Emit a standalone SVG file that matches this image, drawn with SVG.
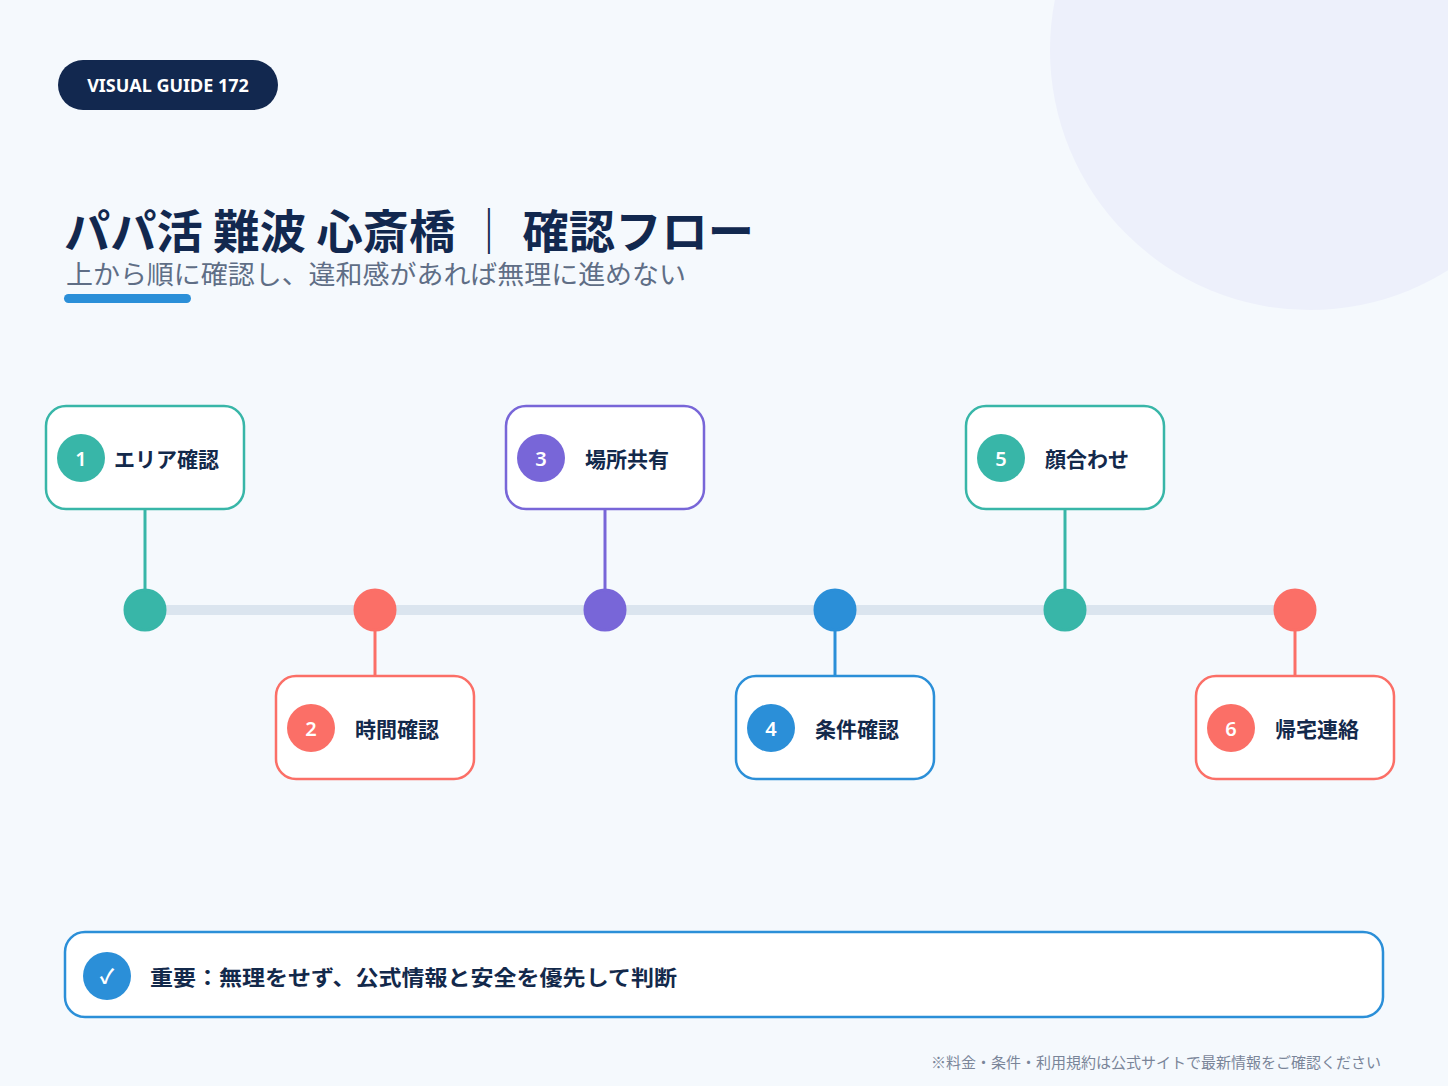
<svg xmlns="http://www.w3.org/2000/svg" width="1448" height="1086" viewBox="0 0 1448 1086">
<style>
.jp{font-family:"Noto Sans CJK JP","Noto Sans",sans-serif}
.box{fill:#fff;stroke-width:2.5}
.lbl{font-family:"Noto Sans CJK JP",sans-serif;font-size:21px;font-weight:700;fill:#13294b}
.num{font-family:"Noto Sans","Noto Sans CJK JP",sans-serif;font-size:20px;font-weight:600;fill:#fff;text-anchor:middle}
.t{stroke:#38b6a8;fill:#38b6a8}
.r{stroke:#fb6f67;fill:#fb6f67}
.p{stroke:#7866d8;fill:#7866d8}
.b{stroke:#2b8fd8;fill:#2b8fd8}
</style>
<rect width="1448" height="1086" fill="#f5f9fd"/>
<circle cx="1310" cy="50" r="260" fill="#edf0fb"/>
<rect x="58" y="60" width="220" height="50" rx="25" fill="#12284f"/>
<text x="168" y="92" text-anchor="middle" font-family="'Noto Sans',sans-serif" font-size="18" font-weight="700" fill="#fff">VISUAL GUIDE 172</text>
<text x="64" y="248" class="jp" font-size="46" font-weight="700" fill="#12284f" textLength="690" lengthAdjust="spacingAndGlyphs">パパ活 難波 心斎橋 │ 確認フロー</text>
<text x="66" y="284" class="jp" font-size="26" fill="#5f6e86" textLength="620" lengthAdjust="spacingAndGlyphs">上から順に確認し、違和感があれば無理に進めない</text>
<rect x="64" y="294" width="127" height="9" rx="4.5" fill="#2b8fd8"/>
<g id="connectors" stroke-width="3">
<line x1="145" y1="610" x2="1295" y2="610" stroke="#dbe5ef" stroke-width="10"/>
<line x1="145" y1="509" x2="145" y2="610" class="t"/>
<line x1="375" y1="610" x2="375" y2="677" class="r"/>
<line x1="605" y1="509" x2="605" y2="610" class="p"/>
<line x1="835" y1="610" x2="835" y2="677" class="b"/>
<line x1="1065" y1="509" x2="1065" y2="610" class="t"/>
<line x1="1295" y1="610" x2="1295" y2="677" class="r"/>
<circle cx="145" cy="610" r="20" class="t" stroke="none"/>
<circle cx="375" cy="610" r="20" class="r" stroke="none"/>
<circle cx="605" cy="610" r="20" class="p" stroke="none"/>
<circle cx="835" cy="610" r="20" class="b" stroke="none"/>
<circle cx="1065" cy="610" r="20" class="t" stroke="none"/>
<circle cx="1295" cy="610" r="20" class="r" stroke="none"/>
</g>
<g id="n1"><rect x="46" y="406" width="198" height="103" rx="20" class="box" stroke="#38b6a8"/><circle cx="81" cy="458" r="24" fill="#38b6a8"/><text x="81" y="466" class="num">1</text><text x="114" y="467" class="lbl">エリア確認</text></g>
<g id="n2"><rect x="276" y="676" width="198" height="103" rx="20" class="box" stroke="#fb6f67"/><circle cx="311" cy="728" r="24" fill="#fb6f67"/><text x="311" y="736" class="num">2</text><text x="355" y="737" class="lbl">時間確認</text></g>
<g id="n3"><rect x="506" y="406" width="198" height="103" rx="20" class="box" stroke="#7866d8"/><circle cx="541" cy="458" r="24" fill="#7866d8"/><text x="541" y="466" class="num">3</text><text x="585" y="467" class="lbl">場所共有</text></g>
<g id="n4"><rect x="736" y="676" width="198" height="103" rx="20" class="box" stroke="#2b8fd8"/><circle cx="771" cy="728" r="24" fill="#2b8fd8"/><text x="771" y="736" class="num">4</text><text x="815" y="737" class="lbl">条件確認</text></g>
<g id="n5"><rect x="966" y="406" width="198" height="103" rx="20" class="box" stroke="#38b6a8"/><circle cx="1001" cy="458" r="24" fill="#38b6a8"/><text x="1001" y="466" class="num">5</text><text x="1045" y="467" class="lbl">顔合わせ</text></g>
<g id="n6"><rect x="1196" y="676" width="198" height="103" rx="20" class="box" stroke="#fb6f67"/><circle cx="1231" cy="728" r="24" fill="#fb6f67"/><text x="1231" y="736" class="num">6</text><text x="1275" y="737" class="lbl">帰宅連絡</text></g>
<g id="note"><rect x="65" y="932" width="1318" height="85" rx="20" fill="#fff" stroke="#2b8fd8" stroke-width="2.5"/><circle cx="107" cy="976" r="24" fill="#2b8fd8"/><text x="107" y="984" class="num">✓</text><text x="150" y="985" class="lbl" font-size="23" textLength="527" lengthAdjust="spacingAndGlyphs">重要：無理をせず、公式情報と安全を優先して判断</text></g>
<text x="1381" y="1068" text-anchor="end" class="jp" font-size="15" fill="#7a8599">※料金・条件・利用規約は公式サイトで最新情報をご確認ください</text>
</svg>
